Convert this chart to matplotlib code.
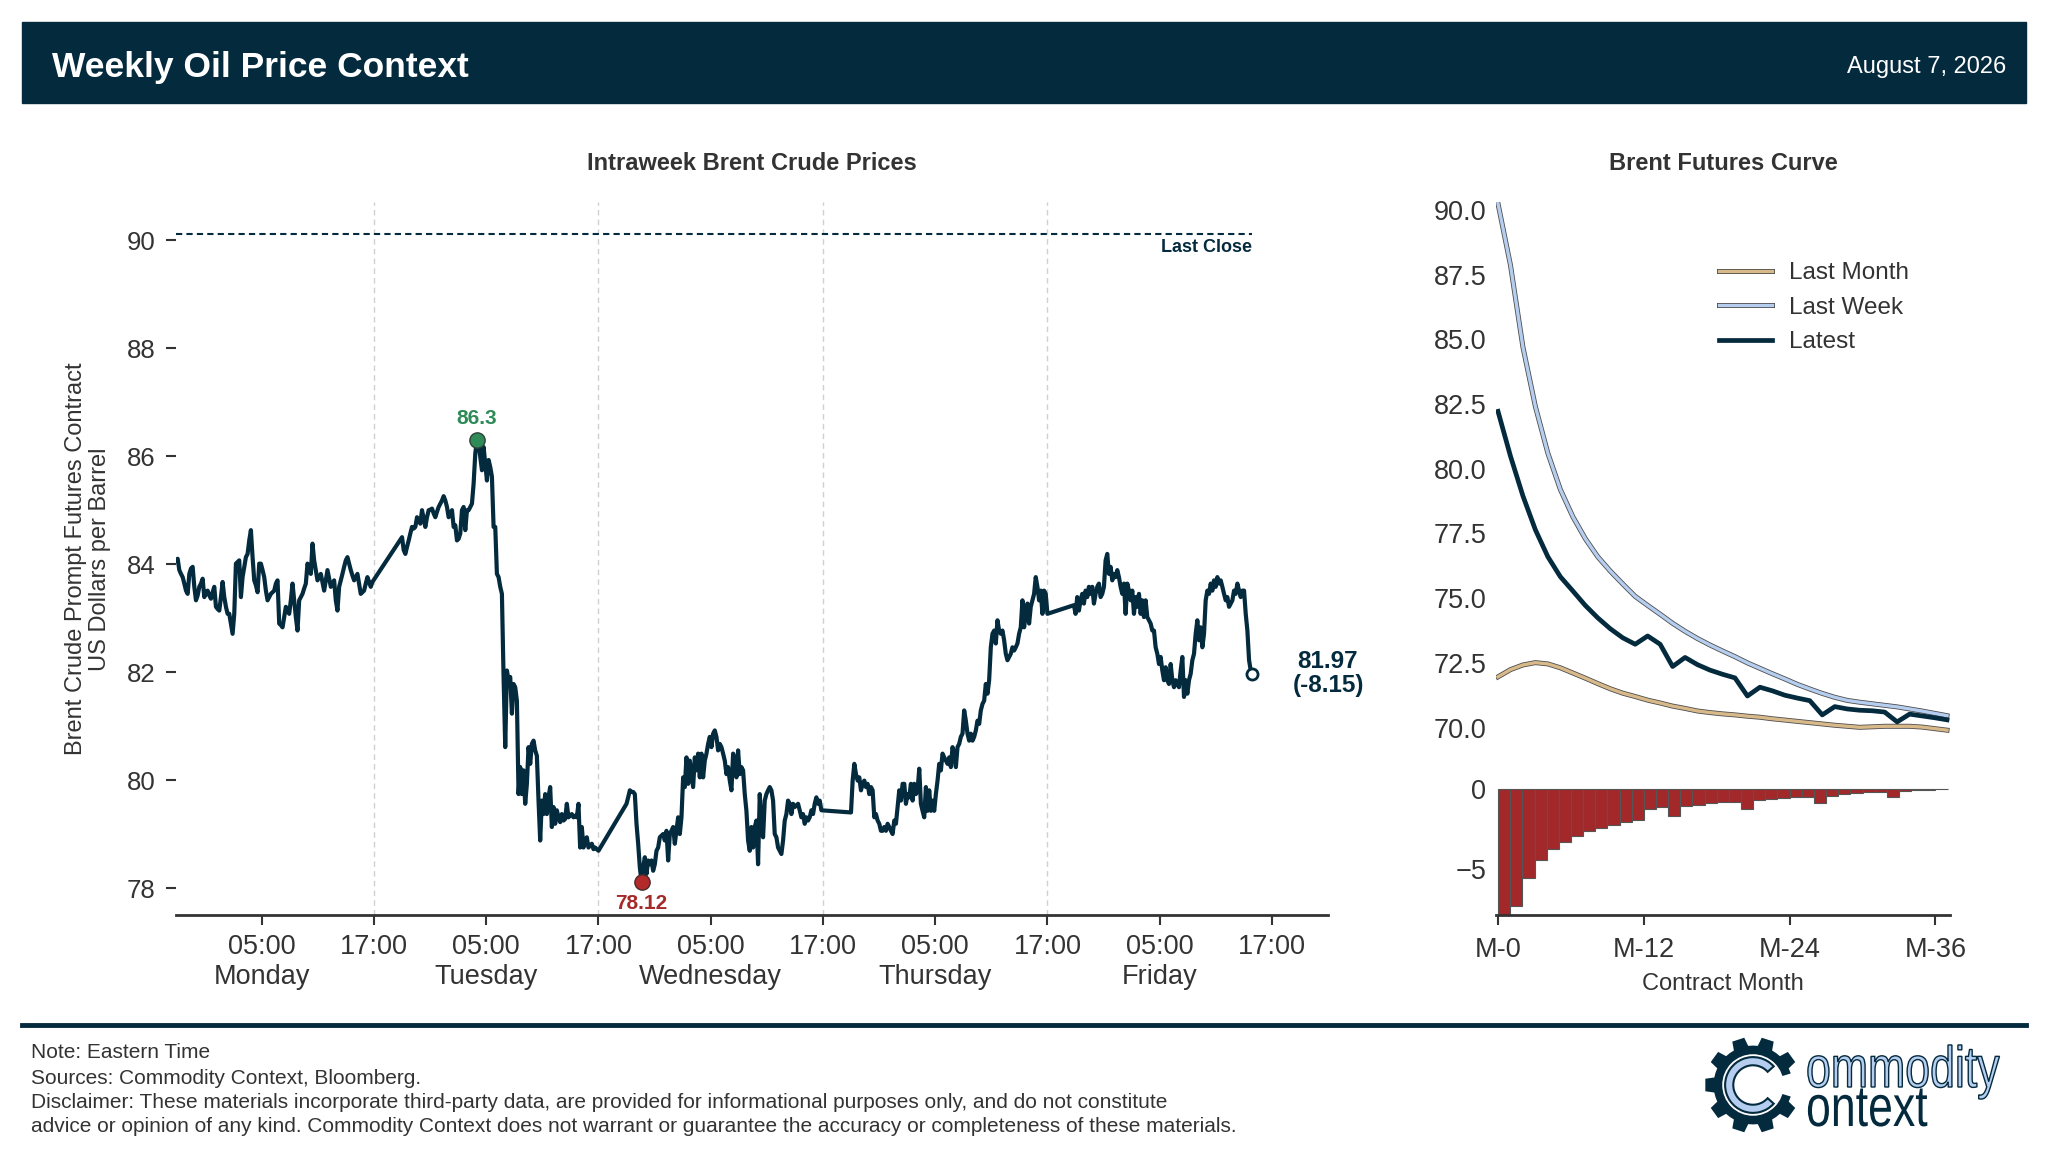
import numpy as np
import pandas as pd
import matplotlib
matplotlib.use("Agg")
import matplotlib.pyplot as plt
import matplotlib.dates as mdates
import matplotlib.patheffects as pe
from matplotlib.font_manager import FontProperties
from matplotlib.lines import Line2D
from matplotlib.patches import Rectangle, Polygon, Circle, Wedge, PathPatch
from matplotlib.textpath import TextPath
from matplotlib.transforms import blended_transform_factory, Affine2D, IdentityTransform

plt.rcParams['font.family'] = ['Liberation Sans', 'DejaVu Sans']

##############################
# Data
##############################

# Brent prompt futures, one list per trading session (regular ~10.7 min bars)
session_times = [
    ("2026-08-02 19:50", "2026-08-03 16:50"),
    ("2026-08-03 20:00", "2026-08-04 17:00"),
    ("2026-08-04 20:00", "2026-08-05 16:50"),
    ("2026-08-05 20:00", "2026-08-06 17:00"),
    ("2026-08-06 19:50", "2026-08-07 14:55"),
]

prices_mon = [84.07, 84.10, 83.89, 83.82, 83.76, 83.64, 83.51, 83.45, 83.82, 83.92,
              83.95, 83.58, 83.33, 83.42, 83.58, 83.64, 83.73, 83.39, 83.48, 83.51,
              83.42, 83.36, 83.48, 83.58, 83.21, 83.17, 83.14, 83.39, 83.67, 83.39,
              83.21, 83.08, 83.08, 82.90, 82.71, 83.08, 84.01, 84.04, 84.07, 83.39,
              83.76, 83.95, 84.13, 84.19, 84.44, 84.63, 84.13, 83.70, 83.61, 83.48,
              84.01, 84.01, 83.89, 83.76, 83.51, 83.33, 83.39, 83.45, 83.48, 83.51,
              83.64, 83.70, 82.90, 82.87, 82.83, 83.02, 83.21, 83.14, 83.08, 83.33,
              83.64, 83.33, 83.02, 82.77, 83.33, 83.39, 83.45, 83.55, 83.64, 84.01,
              83.92, 83.82, 84.38, 84.07, 83.89, 83.70, 83.76, 83.82, 83.67, 83.51,
              83.70, 83.89, 83.73, 83.58, 83.64, 83.70, 83.33, 83.14, 83.58, 83.70,
              83.82, 83.95, 84.07, 84.13, 84.01, 83.89, 83.79, 83.70, 83.76, 83.82,
              83.64, 83.45, 83.48, 83.51, 83.64, 83.76, 83.67, 83.58, 83.67]

prices_tue = [84.50, 84.26, 84.19, 84.32, 84.44, 84.57, 84.69, 84.66, 84.69, 84.87,
              84.81, 84.75, 85.00, 84.84, 84.69, 84.87, 85.00, 85.01, 85.03, 84.94,
              84.87, 84.97, 85.06, 85.12, 85.18, 85.26, 85.18, 85.06, 84.87, 84.91,
              85.00, 84.69, 84.72, 84.44, 84.47, 84.57, 85.00, 85.06, 84.63, 85.00,
              85.00, 85.06, 85.12, 85.49, 86.05, 86.30, 86.23, 85.99, 85.74, 86.17,
              85.86, 85.55, 85.93, 85.80, 85.62, 84.69, 84.69, 83.82, 83.76, 83.58,
              83.45, 81.91, 80.61, 82.03, 81.85, 81.91, 81.23, 81.78, 81.72, 81.47,
              79.74, 80.24, 79.74, 80.18, 79.56, 79.93, 80.61, 80.30, 80.67, 80.73,
              80.55, 80.45, 79.62, 78.88, 79.62, 79.37, 79.74, 79.37, 79.68, 79.87,
              79.13, 79.50, 79.19, 79.44, 79.31, 79.22, 79.37, 79.25, 79.28, 79.56,
              79.31, 79.34, 79.37, 79.31, 79.34, 79.31, 79.56, 78.75, 79.13, 78.75,
              78.88, 78.94, 78.75, 78.79, 78.82, 78.72, 78.75, 78.72, 78.69]

prices_wed = [79.56, 79.68, 79.81, 79.78, 79.78, 79.74, 79.19, 78.82, 78.38, 78.12,
              78.38, 78.57, 78.26, 78.51, 78.44, 78.51, 78.32, 78.44, 78.69, 78.75,
              78.94, 78.97, 79.00, 78.88, 79.06, 78.51, 79.00, 79.06, 79.13, 78.82,
              79.06, 79.31, 79.00, 79.31, 80.05, 79.87, 80.42, 79.93, 80.36, 80.11,
              79.87, 80.42, 80.18, 80.49, 80.05, 80.49, 80.05, 80.36, 80.49, 80.67,
              80.80, 80.61, 80.86, 80.92, 80.80, 80.55, 80.67, 80.61, 80.49, 80.36,
              80.11, 80.24, 79.99, 79.81, 80.49, 80.36, 80.05, 80.55, 80.11, 80.24,
              80.18, 79.74, 79.43, 78.88, 78.69, 79.13, 78.75, 79.13, 79.25, 78.44,
              79.74, 79.13, 78.94, 79.62, 79.74, 79.81, 79.87, 79.81, 79.62, 79.00,
              78.94, 78.75, 78.69, 78.63, 78.88, 79.25, 79.37, 79.62, 79.56, 79.37,
              79.56, 79.50, 79.53, 79.56, 79.44, 79.31, 79.37, 79.19, 79.31, 79.25,
              79.31, 79.44, 79.37, 79.56, 79.68, 79.56, 79.62, 79.44]

prices_thu = [79.40, 79.99, 80.30, 80.11, 79.99, 80.05, 79.81, 79.93, 79.99, 79.87,
              79.93, 79.74, 79.87, 79.81, 79.31, 79.37, 79.25, 79.19, 79.06, 79.06,
              79.13, 79.06, 79.19, 79.13, 79.06, 79.00, 79.25, 79.19, 79.50, 79.81,
              79.62, 79.93, 79.93, 79.56, 79.74, 79.68, 79.93, 79.62, 79.93, 79.74,
              79.81, 80.21, 79.56, 79.43, 79.31, 79.87, 79.43, 79.81, 79.43, 79.62,
              79.43, 79.74, 79.99, 80.30, 80.18, 80.49, 80.42, 80.36, 80.30, 80.42,
              80.24, 80.61, 80.49, 80.24, 80.61, 80.67, 80.80, 80.86, 81.29, 81.10,
              80.86, 80.73, 80.86, 80.73, 80.80, 80.92, 81.10, 81.04, 81.29, 81.41,
              81.47, 81.78, 81.60, 81.85, 82.46, 82.71, 82.77, 82.53, 82.96, 82.77,
              82.71, 82.77, 82.59, 82.34, 82.22, 82.28, 82.34, 82.46, 82.40, 82.46,
              82.53, 82.71, 82.83, 83.33, 82.83, 83.08, 83.27, 82.90, 83.21, 83.33,
              83.45, 83.76, 83.58, 83.33, 83.51, 83.08, 83.51, 83.45, 83.08]

prices_fri = [83.24, 83.08, 83.39, 83.14, 83.33, 83.45, 83.27, 83.51, 83.39, 83.58,
              83.45, 83.58, 83.27, 83.45, 83.58, 83.64, 83.39, 83.45, 83.58, 84.07,
              84.19, 83.82, 83.95, 83.70, 83.82, 83.76, 83.89, 83.76, 83.58, 83.45,
              83.64, 83.08, 83.64, 83.51, 83.33, 83.51, 83.08, 83.39, 83.21, 83.45,
              83.08, 83.33, 83.02, 83.33, 83.02, 82.96, 82.90, 82.77, 82.77, 82.46,
              82.34, 82.15, 82.28, 82.03, 81.85, 82.09, 81.85, 81.78, 82.15, 81.85,
              81.72, 81.85, 81.78, 81.72, 82.03, 82.28, 81.54, 81.85, 81.60, 81.85,
              81.97, 82.22, 82.34, 82.71, 82.96, 82.59, 82.83, 82.46, 82.71, 83.33,
              83.51, 83.45, 83.64, 83.51, 83.70, 83.58, 83.76, 83.64, 83.70, 83.58,
              83.45, 83.33, 83.39, 83.21, 83.27, 83.33, 83.51, 83.45, 83.64, 83.51,
              83.39, 83.51, 83.51, 83.08, 82.77, 82.22, 82.03, 81.97]

last_close = 90.12

day_names = ["Monday", "Tuesday", "Wednesday", "Thursday", "Friday"]
day_dates = ["2026-08-03", "2026-08-04", "2026-08-05", "2026-08-06", "2026-08-07"]

# futures curve, contract months M-0 .. M-36
contract_months = list(range(37))
curve_last_month = [71.96, 72.24, 72.42, 72.51, 72.46, 72.31, 72.11, 71.91, 71.70, 71.50,
                    71.33, 71.20, 71.06, 70.95, 70.83, 70.74, 70.64, 70.58, 70.53, 70.49,
                    70.44, 70.40, 70.34, 70.29, 70.24, 70.19, 70.14, 70.09, 70.05, 70.01,
                    70.03, 70.05, 70.05, 70.05, 70.02, 69.96, 69.90]
curve_last_week = [90.25, 87.87, 84.70, 82.40, 80.60, 79.20, 78.15, 77.30, 76.60, 76.05,
                   75.55, 75.07, 74.72, 74.38, 74.03, 73.72, 73.44, 73.19, 72.96, 72.74,
                   72.50, 72.29, 72.08, 71.88, 71.67, 71.49, 71.32, 71.17, 71.05, 70.98,
                   70.92, 70.86, 70.80, 70.72, 70.64, 70.55, 70.46]
curve_latest = [82.22, 80.49, 78.95, 77.64, 76.60, 75.83, 75.28, 74.72, 74.24, 73.82,
                73.47, 73.22, 73.54, 73.22, 72.36, 72.71, 72.43, 72.22, 72.06, 71.92,
                71.22, 71.56, 71.42, 71.25, 71.14, 71.04, 70.49, 70.81, 70.72, 70.67,
                70.65, 70.60, 70.22, 70.52, 70.45, 70.38, 70.30]
weekly_change = [-8.03, -7.35, -5.57, -4.49, -3.80, -3.31, -2.94, -2.63, -2.47, -2.29,
                 -2.08, -1.98, -1.24, -1.16, -1.67, -1.04, -0.98, -0.88, -0.84, -0.80,
                 -1.24, -0.69, -0.63, -0.57, -0.51, -0.51, -0.88, -0.41, -0.31, -0.25,
                 -0.18, -0.16, -0.51, -0.12, -0.08, -0.05, -0.03]

##############################
# Style
##############################

NAVY = '#042a3e'
GREY = '#333333'
LIGHT_BLUE = '#b5cdef'
W, H = 2048, 1169

def fx(px):
    return px / W

def fy(px):
    return 1 - px / H

def label_value(v):
    return "{:g}".format(round(v, 2))

fig = plt.figure(figsize=(W / 100, H / 100), dpi=100)

# header band
fig.patches.append(Rectangle((fx(22), fy(103)), fx(2004), 81 / H,
                             transform=fig.transFigure, color=NAVY, zorder=0))
fig.text(fx(52), fy(68), "Weekly Oil Price Context", color='white',
         fontsize=25.5, fontweight='bold', va='center', ha='left')
fig.text(fx(2006), fy(67), "August 7, 2026", color='white',
         fontsize=17, va='center', ha='right')

##############################
# Intraweek prices
##############################

sessions = [prices_mon, prices_tue, prices_wed, prices_thu, prices_fri]
t_parts = []
for (start, end), vals in zip(session_times, sessions):
    t_parts.append(pd.date_range(start, end, periods=len(vals)))
t = mdates.date2num(t_parts[0].append(t_parts[1:]).to_pydatetime())
p = np.concatenate(sessions)

ax = fig.add_axes([fx(176), fy(915), fx(1152), (915 - 202) / H])
ax.plot(t, p, color=NAVY, lw=3.0, solid_joinstyle='round', zorder=3)

t_end = mdates.date2num(pd.Timestamp("2026-08-07 23:00").to_pydatetime())
ax.set_xlim(t[0], t_end)
ax.set_ylim(77.5, 90.71)

# session breaks
for d in day_dates[:-1]:
    ax.axvline(mdates.date2num(pd.Timestamp(d + " 17:00").to_pydatetime()),
               color='#d0d0d0', lw=1.0, ls=(0, (4, 3)), zorder=0)

# last close
ax.hlines(last_close, t[0], t[-1], colors=NAVY, linestyles=(0, (3, 2)), lw=1.5, zorder=2)
ax.text(t[-1], last_close - 0.1, "Last Close", ha='right', va='top',
        fontsize=13, fontweight='bold', color=NAVY)

# high / low
i_hi = int(np.argmax(p))
i_lo = int(np.argmin(p))
ax.plot(t[i_hi], p[i_hi], 'o', ms=11, mfc='#2e8b57', mec='#2f3f3a', mew=1, zorder=4)
ax.annotate(label_value(p[i_hi]), (t[i_hi], p[i_hi]), xytext=(0, 9),
            textcoords='offset points', ha='center', va='bottom',
            fontsize=15, fontweight='bold', color='#2e8b57')
ax.plot(t[i_lo], p[i_lo], 'o', ms=11, mfc='#b22a2a', mec='#4a2a2a', mew=1, zorder=4)
ax.annotate(label_value(p[i_lo]), (t[i_lo], p[i_lo]), xytext=(0, -9),
            textcoords='offset points', ha='center', va='top',
            fontsize=15, fontweight='bold', color='#a52a2a')

# latest
ax.plot(t[-1], p[-1], 'o', ms=8, mfc='white', mec=NAVY, mew=2, zorder=5)
chg = p[-1] - last_close
trans = blended_transform_factory(ax.transAxes, ax.transData)
ax.text(1.0, p[-1], "{:.2f}\n({:.2f})".format(p[-1], chg), transform=trans,
        ha='center', va='center', fontsize=17.5, fontweight='bold',
        color=NAVY, linespacing=1.05)

tick_pos, tick_lab = [], []
for d, name in zip(day_dates, day_names):
    tick_pos.append(mdates.date2num(pd.Timestamp(d + " 05:00").to_pydatetime()))
    tick_lab.append("05:00\n" + name)
    tick_pos.append(mdates.date2num(pd.Timestamp(d + " 17:00").to_pydatetime()))
    tick_lab.append("17:00")
ax.set_xticks(tick_pos)
ax.set_xticklabels(tick_lab)
ax.set_yticks(range(78, 91, 2))
ax.tick_params(axis='x', length=7, width=1.5, color=GREY, pad=7,
               labelsize=19.5, labelcolor=GREY)
ax.tick_params(axis='y', length=7, width=1.5, color=GREY, pad=8,
               labelsize=18.5, labelcolor=GREY)
for s in ['top', 'right', 'left']:
    ax.spines[s].set_visible(False)
ax.spines['bottom'].set_color(GREY)
ax.spines['bottom'].set_linewidth(2)

fig.text(fx(752), fy(164), "Intraweek Brent Crude Prices", ha='center', va='center',
         fontsize=17, fontweight='bold', color=GREY)
fig.text(fx(88), fy(559), "Brent Crude Prompt Futures Contract\nUS Dollars per Barrel",
         rotation=90, ha='center', va='center', multialignment='center',
         fontsize=17, color=GREY, linespacing=1.1)

##############################
# Futures curve
##############################

ax2 = fig.add_axes([fx(1496), fy(740), fx(454), (740 - 202) / H])
outline = [pe.Stroke(linewidth=3.6, foreground='#4d4d4d'), pe.Normal()]
ax2.plot(contract_months, curve_last_month, color='#d8b98a', lw=2.4,
         path_effects=outline, label='Last Month')
ax2.plot(contract_months, curve_last_week, color=LIGHT_BLUE, lw=2.4,
         path_effects=outline, label='Last Week')
ax2.plot(contract_months, curve_latest, color=NAVY, lw=3.4, label='Latest')
ax2.set_xlim(-0.16, 36.24)
ax2.set_ylim(69.52, 90.31)
ax2.set_yticks(np.arange(70, 90.1, 2.5))
ax2.set_yticklabels(["{:.1f}".format(v) for v in np.arange(70, 90.1, 2.5)])
ax2.set_xticks([])
ax2.tick_params(axis='y', length=0, pad=7, labelsize=19.5, labelcolor=GREY)
for s in ax2.spines.values():
    s.set_visible(False)
ax2.legend(loc='upper left', bbox_to_anchor=(fx(1719), fy(262)),
           bbox_transform=fig.transFigure, frameon=False, fontsize=17.5,
           handlelength=2.2, handletextpad=0.7, labelspacing=0.52,
           borderpad=0, borderaxespad=0, labelcolor=GREY)

fig.text(fx(1723), fy(164), "Brent Futures Curve", ha='center', va='center',
         fontsize=17, fontweight='bold', color=GREY)

ax3 = fig.add_axes([fx(1496), fy(915), fx(454), (915 - 786.6) / H])
ax3.bar(contract_months, weekly_change, width=1.0, align='edge',
        color='#a3282a', edgecolor='#555555', lw=0.8)
ax3.set_xlim(-0.17, 37.2)
ax3.set_ylim(-7.92, 0.15)
ax3.set_yticks([0, -5])
ax3.set_xticks([0, 12, 24, 36])
ax3.set_xticklabels(["M-0", "M-12", "M-24", "M-36"])
ax3.tick_params(axis='y', length=0, pad=7, labelsize=19.5, labelcolor=GREY)
ax3.tick_params(axis='x', length=7, width=1.5, color=GREY, pad=9,
                labelsize=19.5, labelcolor=GREY)
for s in ['top', 'right', 'left']:
    ax3.spines[s].set_visible(False)
ax3.spines['bottom'].set_color(GREY)
ax3.spines['bottom'].set_linewidth(2)
ax3.set_xlabel("Contract Month", fontsize=17, color=GREY, labelpad=7)

##############################
# Footer
##############################

fig.add_artist(Line2D([fx(22), fx(2026)], [fy(1025), fy(1025)], color=NAVY, lw=3.5))
notes = ["Note: Eastern Time",
         "Sources: Commodity Context, Bloomberg.",
         "Disclaimer: These materials incorporate third-party data, are provided for informational purposes only, and do not constitute",
         "advice or opinion of any kind. Commodity Context does not warrant or guarantee the accuracy or completeness of these materials."]
for txt, ypx in zip(notes, [1053, 1079, 1103, 1126]):
    fig.text(fx(31), fy(ypx), txt, ha='left', va='center', fontsize=15, color=GREY)

# logo: gear + narrow wordmark
lax = fig.add_axes([fx(1753 - 50), fy(1085 + 50), fx(100), 100 / H])
lax.set_xlim(-1.04, 1.04)
lax.set_ylim(-1.04, 1.04)
lax.set_aspect('equal')
lax.axis('off')
pts = []
for k in range(10):
    a = k * 36
    for ang, r in [(a - 18, 0.82), (a - 11, 0.82), (a - 7.5, 1.0), (a + 7.5, 1.0), (a + 11, 0.82)]:
        pts.append((r * np.cos(np.radians(ang)), r * np.sin(np.radians(ang))))
lax.add_patch(Polygon(pts, closed=True, fc=NAVY, ec='none'))
lax.add_patch(Circle((0, 0), 0.64, fc='white', ec='none'))
lax.add_patch(Wedge((0, 0), 1.05, -17, 17, fc='white', ec='none'))
lax.add_patch(Wedge((0, 0), 0.58, 42, 318, width=0.17, fc=LIGHT_BLUE, ec=NAVY, lw=1.5))

def logo_word(word, x0, base, fc, ec, lw):
    tp = TextPath((0, 0), word, size=58, prop=FontProperties(family='Liberation Sans'))
    path = Affine2D().scale(0.77, 1.0).translate(x0, H - base).transform_path(tp)
    fig.patches.append(PathPatch(path, transform=IdentityTransform(),
                                 fc=fc, ec=ec, lw=lw))

logo_word("ommodity", 1806, 1087, LIGHT_BLUE, NAVY, 1.0)
logo_word("ontext", 1806, 1126, NAVY, 'none', 0)

fig.savefig("out.png", dpi=100, facecolor='white')
